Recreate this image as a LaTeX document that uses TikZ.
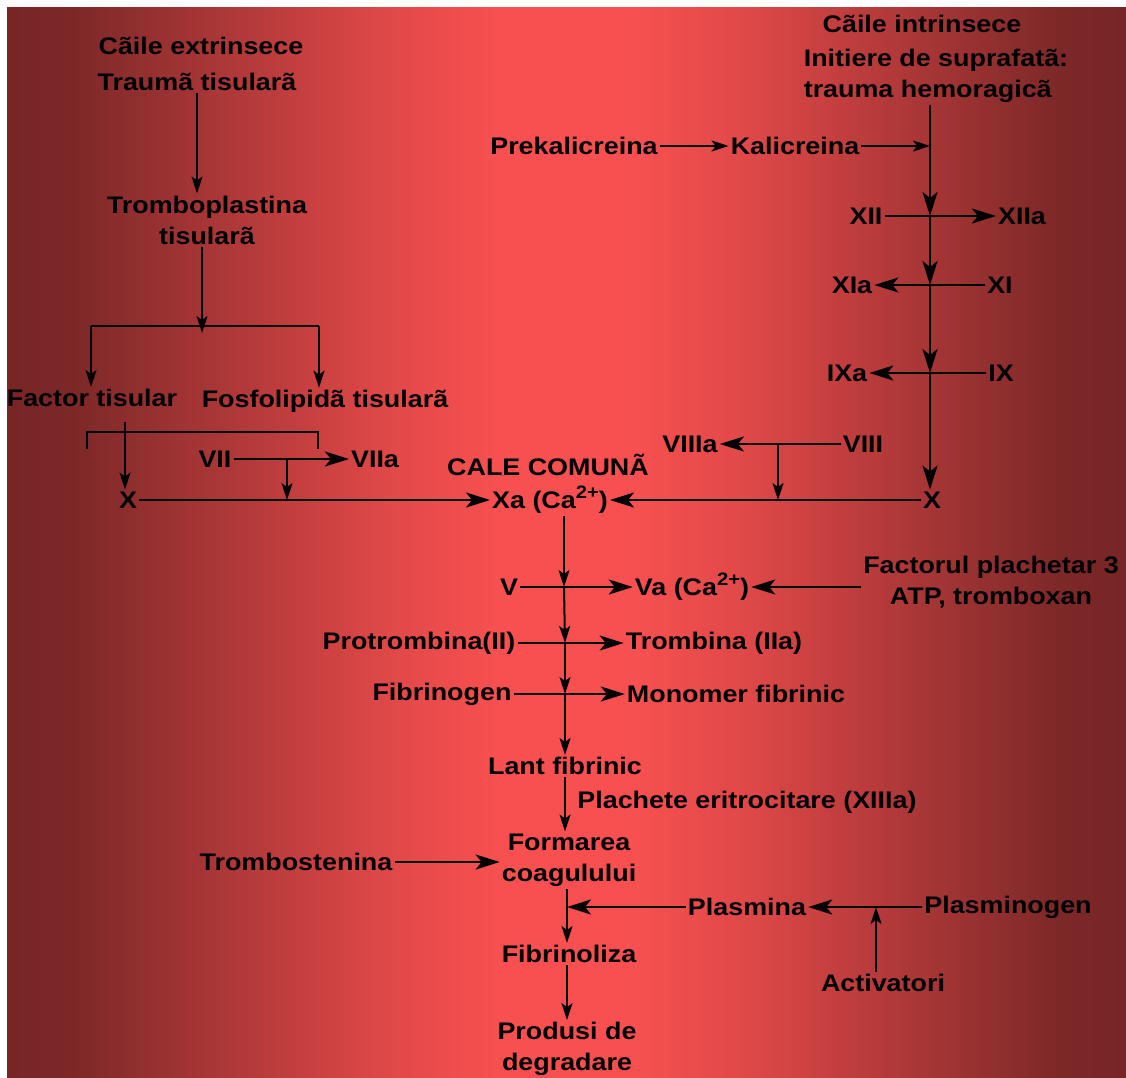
\documentclass[tikz,border=0pt]{standalone}
\usepackage{fontspec}
\usepackage{xcolor}
\usepackage{tikz}
\usetikzlibrary{arrows.meta, positioning}
\newfontfamily\lbfont[FakeStretch=1.12]{Liberation Sans}
\definecolor{bgdark}{HTML}{772525}
\definecolor{bgdark2}{HTML}{7D2828}
\definecolor{bgmid}{HTML}{E04848}
\definecolor{bgbright}{HTML}{F85050}
% path spans 25bp..75bp of the shading
\pgfdeclarehorizontalshading{bgshade}{100bp}{color(0bp)=(bgdark); color(25bp)=(bgdark); color(28bp)=(bgdark2); color(42bp)=(bgmid); color(47bp)=(bgbright); color(53bp)=(bgbright); color(58bp)=(bgmid); color(72bp)=(bgdark2); color(75bp)=(bgdark); color(100bp)=(bgdark)}
\newcommand{\supcharge}{\raisebox{0.42em}{\fontsize{18}{18}\selectfont 2+}}

\begin{document}
\begin{tikzpicture}[
        x=1pt, y=-1pt,
        every node/.style={font=\lbfont\bfseries\fontsize{24}{31}\selectfont, inner sep=2pt, align=center},
        harr/.style={draw, line width=2.4pt, -{Stealth[length=24pt, width=15pt, inset=6pt]}},
        varr/.style={draw, line width=2pt, -{Stealth[length=17pt, width=11pt, inset=4pt]}},
        bracketline/.style={draw, line width=1.8pt}
    ]
    \useasboundingbox (0,0) rectangle (1126,1077);
    \fill[white] (0,0) rectangle (1126,1077);
    \shade[shading=bgshade] (7,7) rectangle (1126,1077);

    % Nodes - extrinsic path
    \node (ext) at (201,46) {Cãile extrinsece};
    \node (trauma) at (197,82) {Traumã tisularã};
    \node (trombopl) at (207,220) {Tromboplastina\\ tisularã};
    \node (factor) at (92,398) {Factor tisular};
    \node (fosfo) at (325,401) {Fosfolipidã tisularã};
    \node (xleft) at (128,500) {X};
    \node (vii) at (215,459) {VII};
    \node (viia) at (375,459) {VIIa};

    % Nodes - common path
    \node (calecom) at (548,465) {CALE COMUNÃ};
    \node (xa) at (550,500) {Xa (Ca\supcharge)};

    % Nodes - intrinsic path
    \node (int) at (922,24) {Cãile intrinsece};
    \node[align=left] (init) at (936,76) {Initiere de suprafatã:\\ trauma hemoragicã};
    \node (prekal) at (574,146) {Prekalicreina};
    \node (kal) at (795,146) {Kalicreina};
    \node (xii) at (866,216) {XII};
    \node (xiia) at (1022,216) {XIIa};
    \node (xia) at (852,285) {XIa};
    \node (xi) at (1000,285) {XI};
    \node (ixa) at (847,373) {IXa};
    \node (ix) at (1001,373) {IX};
    \node (viiia) at (690,444) {VIIIa};
    \node (viii) at (863,444) {VIII};
    \node (xright) at (932,500) {X};

    % Nodes - down the middle
    \node (v) at (509,587) {V};
    \node (va) at (692,587) {Va (Ca\supcharge)};
    \node (fp3) at (991,582) {Factorul plachetar 3\\ ATP, tromboxan};
    \node (protr) at (419,643) {Protrombina(II)};
    \node (tromb) at (714,643) {Trombina (IIa)};
    \node (fibrinog) at (442,694) {Fibrinogen};
    \node (monomer) at (736,694) {Monomer fibrinic};
    \node (lant) at (565,766) {Lant fibrinic};
    \node (plachete) at (747,802) {Plachete eritrocitare (XIIIa)};
    \node (formarea) at (569,860) {Formarea\\ coagulului};
    \node (trombost) at (296,862) {Trombostenina};
    \node (plasmina) at (747,907) {Plasmina};
    \node (plasminog) at (1008,907) {Plasminogen};
    \node (activ) at (883,983) {Activatori};
    \node (fibrinol) at (569,954) {Fibrinoliza};
    \node (produsi) at (567,1049) {Produsi de\\ degradare};

    % Junctions
    \coordinate (brl) at (91,326);
    \coordinate (brm) at (202,326);
    \coordinate (brr) at (319,326);
    \coordinate (bl) at (87,432);
    \coordinate (br) at (318,432);
    \coordinate (ftdrop) at (125,422);
    \coordinate (j7) at (287,459);
    \coordinate (j8) at (778,444);
    \coordinate (jkal) at (930,146);
    \coordinate (j12) at (930,216);
    \coordinate (j11) at (930,285);
    \coordinate (j9) at (930,373);
    \coordinate (jv) at (564,587);
    \coordinate (jp) at (565,643);
    \coordinate (jf) at (565,694);
    \coordinate (jpl) at (567,907);
    \coordinate (ja) at (876,907);

    % Edges - extrinsic
    \draw[varr] (trauma.south) -- (trauma.south |- trombopl.north);
    \draw[varr] (trombopl.south -| brm) -- ([yshift=-7pt]brm);
    \draw[bracketline] (brl) -- (brr);
    \draw[varr] (brl) -- (brl |- factor.north);
    \draw[varr] (brr) -- (brr |- fosfo.north);
    \draw[bracketline] ([yshift=-17pt]bl) -- (bl) -- (br) -- ([yshift=-17pt]br);
    \draw[varr] (ftdrop) -- (ftdrop |- xleft.north);
    \draw[harr] (vii) -- (viia);
    \draw[varr] (j7) -- (j7 |- xleft);
    \draw[harr] (xleft) -- (xa);

    % Edges - intrinsic
    \draw[varr] (prekal) -- (kal);
    \draw[varr] (kal) -- (jkal);
    \draw[harr] (j12 |- init.south) -- (j12);
    \draw[harr] (xii) -- (xiia);
    \draw[harr] (j12) -- (j11);
    \draw[harr] (xi) -- (xia);
    \draw[harr] (j11) -- (j9);
    \draw[harr] (ix) -- (ixa);
    \draw[harr] (j9) -- (j9 |- xright.north);
    \draw[harr] (viii) -- (viiia);
    \draw[varr] (j8) -- (j8 |- xright);
    \draw[harr] (xright) -- (xa);

    % Edges - common path
    \draw[varr] (xa.south -| jv) -- (jv);
    \draw[harr] (v) -- (va);
    \draw[harr] (fp3.west |- va) -- (va.east);
    \draw[varr] (jv) -- (jp);
    \draw[harr] (protr) -- (tromb);
    \draw[varr] (jp) -- (jf);
    \draw[harr] (fibrinog) -- (monomer);
    \draw[varr] (jf) -- (jf |- lant.north);
    \draw[varr] (lant.south) -- (lant.south |- formarea.north);
    \draw[harr] (trombost) -- (formarea.west |- trombost);
    \draw[varr] (formarea.south -| jpl) -- (jpl |- fibrinol.north);
    \draw[harr] (plasmina) -- (jpl);
    \draw[harr] (plasminog) -- (plasmina);
    \draw[varr] (activ.north -| ja) -- (ja);
    \draw[varr] (fibrinol.south -| jpl) -- (jpl |- produsi.north);
\end{tikzpicture}
\end{document}
